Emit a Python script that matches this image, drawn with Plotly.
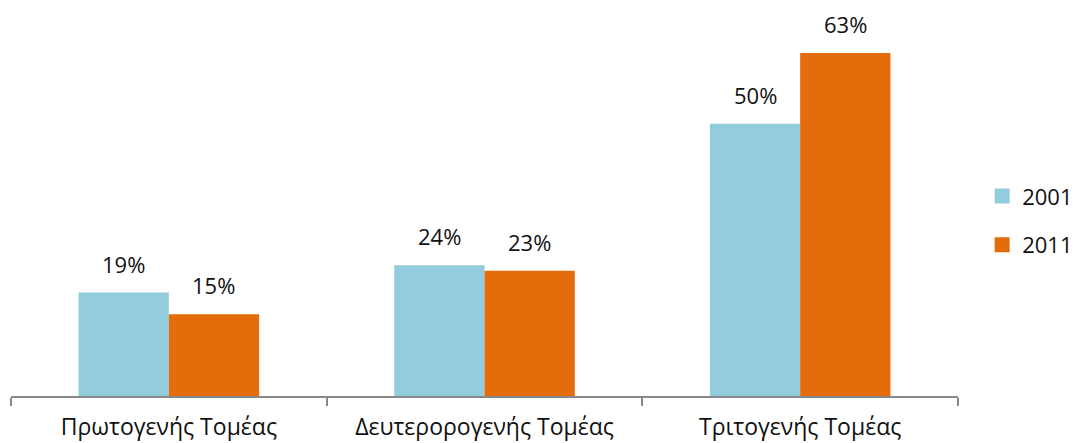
import plotly.graph_objects as go

# Employment share by economic sector, census years 2001 and 2011
sectors = ["Πρωτογενής Τομέας", "Δευτερορογενής Τομέας", "Τριτογενής Τομέας"]
years = ["2001", "2011"]
share_2001 = [19, 24, 50]
share_2011 = [15, 23, 63]

colors = {"2001": "#93CDDD", "2011": "#E46C0A"}
font_family = "Open Sans, Liberation Sans, sans-serif"
text_color = "#111111"
bargap = 0.428

fig = go.Figure()
series = {"2001": share_2001, "2011": share_2011}
for yr in years:
    fig.add_trace(go.Bar(
        x=sectors, y=series[yr], name=yr,
        marker=dict(color=colors[yr], line=dict(width=0)),
        showlegend=False,
    ))
    # legend entry with a larger square swatch
    fig.add_trace(go.Scatter(
        x=[None], y=[None], mode="markers", name=yr,
        marker=dict(symbol="square", size=15, color=colors[yr]),
        legendgroup=yr, showlegend=True,
    ))

# value labels above each bar (bar centres offset by half a bar width)
bar_w = (1 - bargap) / len(years)
for j, yr in enumerate(years):
    offset = (j - (len(years) - 1) / 2) * bar_w
    for i, v in enumerate(series[yr]):
        fig.add_annotation(
            x=i + offset, y=v, xref="x", yref="y",
            text=f"{v}%", showarrow=False,
            yanchor="bottom", yshift=12,
            font=dict(family=font_family, size=22, color=text_color),
        )

fig.update_layout(
    width=1076, height=443,
    margin=dict(l=11, r=118, t=15, b=47, autoexpand=False),
    paper_bgcolor="white", plot_bgcolor="white",
    barmode="group", bargap=bargap, bargroupgap=0,
    font=dict(family=font_family, size=22, color=text_color),
    legend=dict(
        x=1.0255, xanchor="left", y=0.46, yanchor="middle",
        font=dict(family=font_family, size=22, color=text_color),
        tracegroupgap=17, traceorder="grouped",
        bgcolor="rgba(0,0,0,0)",
    ),
    xaxis=dict(
        type="category", showgrid=False, zeroline=False,
        showline=True, linecolor="#898989", linewidth=1.5,
        ticks="outside", tickson="boundaries", ticklen=8,
        tickcolor="#898989", tickwidth=1.5,
        ticklabelstandoff=10,
        tickfont=dict(family=font_family, size=23, color=text_color),
    ),
    yaxis=dict(
        range=[0, 70], visible=False, showgrid=False, zeroline=False,
    ),
)

fig.write_html("out.html")
